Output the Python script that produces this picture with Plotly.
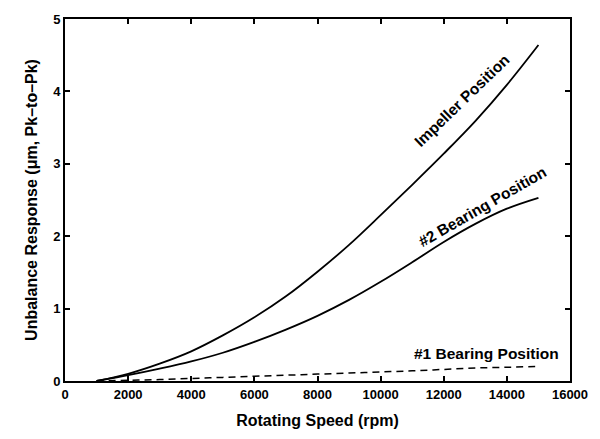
import plotly.graph_objects as go

rpm = [1000, 2000, 3000, 4000, 5000, 6000, 7000, 8000, 9000, 10000, 11000, 12000, 13000, 14000, 15000]
imp = [0.0, 0.10, 0.24, 0.41, 0.63, 0.88, 1.17, 1.51, 1.88, 2.29, 2.71, 3.14, 3.59, 4.09, 4.64]
b2 = [0.0, 0.08, 0.17, 0.27, 0.39, 0.54, 0.71, 0.90, 1.12, 1.37, 1.64, 1.92, 2.17, 2.38, 2.53]
b1 = [0.0, 0.01, 0.02, 0.035, 0.05, 0.065, 0.08, 0.095, 0.11, 0.125, 0.14, 0.16, 0.18, 0.19, 0.20]

x_ticks = [0, 2000, 4000, 6000, 8000, 10000, 12000, 14000, 16000]
y_ticks = [0, 1, 2, 3, 4, 5]

labels = [
    ("Impeller Position", 12567, 3.88, -44),
    ("#2 Bearing Position", 13228, 2.41, -30),
    ("#1 Bearing Position", 13350, 0.38, 0),
]

font_fam = "Liberation Sans, Arial, sans-serif"

fig = go.Figure()
fig.add_trace(go.Scatter(x=rpm, y=imp, mode="lines", line=dict(color="black", width=1.8, shape="spline"), showlegend=False))
fig.add_trace(go.Scatter(x=rpm, y=b2, mode="lines", line=dict(color="black", width=1.8, shape="spline"), showlegend=False))
fig.add_trace(go.Scatter(x=rpm, y=b1, mode="lines", line=dict(color="black", width=1.5, dash="7px,5px", shape="spline"), showlegend=False))

for text, x, y, ang in labels:
    fig.add_annotation(x=x, y=y, text=text, showarrow=False, textangle=ang,
                       font=dict(family=font_fam, size=15.5, color="black", weight="bold"))

axis_common = dict(showgrid=False, zeroline=False, showline=True, linecolor="black", linewidth=2,
                   mirror="ticks", ticks="inside", ticklen=5, tickwidth=1.5, tickcolor="black",
                   tickfont=dict(family=font_fam, size=13, color="black", weight="bold"))

fig.update_layout(
    width=600, height=439,
    margin=dict(l=65, r=27, t=18, b=56),
    paper_bgcolor="white", plot_bgcolor="white",
    xaxis=dict(range=[0, 16000], tickvals=x_ticks, ticktext=[str(v) for v in x_ticks],
               title=dict(text="Rotating Speed (rpm)", standoff=14,
                          font=dict(family=font_fam, size=16, color="black", weight="bold")),
               **axis_common),
    yaxis=dict(range=[0, 5], tickvals=y_ticks, ticktext=[str(v) for v in y_ticks],
               title=dict(text="Unbalance Response (μm, Pk–to–Pk)", standoff=12,
                          font=dict(family=font_fam, size=16, color="black", weight="bold")),
               **axis_common),
)

fig.write_html("out.html")
